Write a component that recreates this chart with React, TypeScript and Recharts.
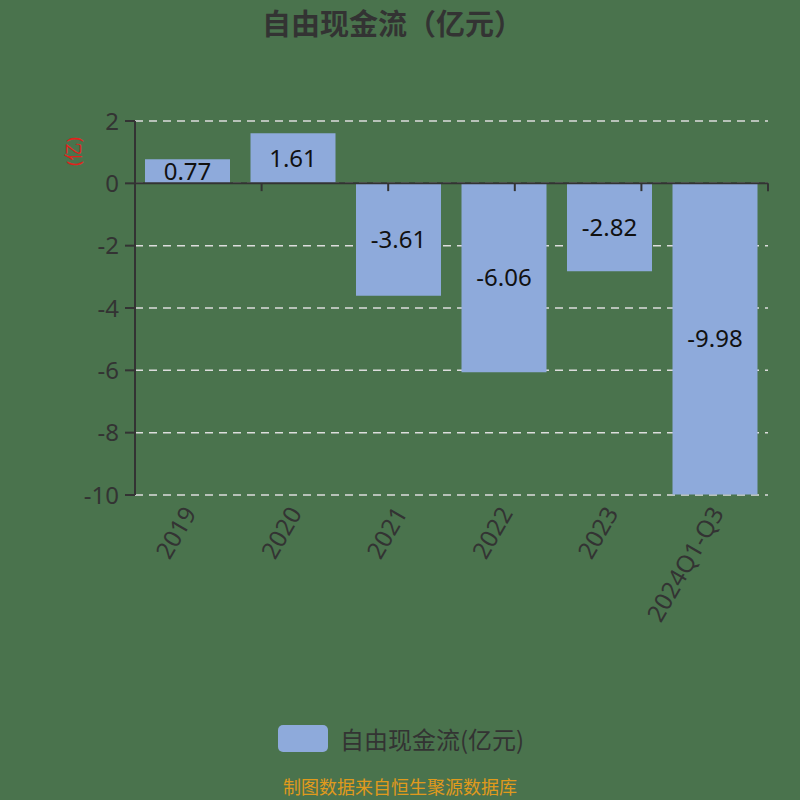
import { Bar, BarChart, CartesianGrid, LabelList, ReferenceLine, XAxis, YAxis } from "recharts"

const categories = ["2019", "2020", "2021", "2022", "2023", "2024Q1-Q3"]
const freeCashFlow = [0.77, 1.61, -3.61, -6.06, -2.82, -9.98]
const yTicks = [2, 0, -2, -4, -6, -8, -10]
const boundaries = [1, 2, 3, 4, 5, 6]

const data = categories.map((name, i) => ({ name, value: freeCashFlow[i] }))

const BG = "#4a734d"
const BAR = "#8eaadb"
const AXIS = "#333333"

function XTick({ x, y, payload }: any) {
  return (
    <g transform={`translate(${x + 2},${y + 6})`}>
      <text transform="rotate(-60)" textAnchor="end" dy="0.35em" fill={AXIS} fontSize={24}>
        {payload.value}
      </text>
    </g>
  )
}

export default function App() {
  return (
    <div
      style={{
        position: "absolute",
        left: 0,
        top: 0,
        width: 800,
        height: 800,
        overflow: "hidden",
        background: BG,
        fontFamily: "'Noto Sans', 'Noto Sans CJK SC', sans-serif",
      }}
    >
      <div
        style={{
          position: "absolute",
          top: 0,
          left: 0,
          width: 785,
          textAlign: "center",
          fontSize: 29,
          lineHeight: "44px",
          fontWeight: "bold",
          color: AXIS,
          fontFamily: "'Noto Sans CJK SC', sans-serif",
        }}
      >
        自由现金流（亿元）
      </div>
      <BarChart
        width={800}
        height={800}
        data={data}
        margin={{ top: 121, right: 32, bottom: 100, left: 0 }}
        barSize={85}
      >
        <CartesianGrid vertical={false} stroke="#dddddd" strokeDasharray="8 6" strokeWidth={1.5} />
        <XAxis
          dataKey="name"
          height={205}
          axisLine={false}
          tickLine={false}
          tick={<XTick />}
          interval={0}
        />
        <XAxis xAxisId="num" type="number" domain={[0, 6]} hide />
        <YAxis
          width={135}
          domain={[-10, 2]}
          ticks={yTicks}
          interval={0}
          axisLine={{ stroke: AXIS, strokeWidth: 2 }}
          tickLine={{ stroke: AXIS, strokeWidth: 2 }}
          tickSize={10}
          tickMargin={6}
          tick={{ fill: AXIS, fontSize: 24 }}
          label={{
            value: "(亿)",
            angle: -90,
            position: "insideTopLeft",
            dx: 62,
            dy: 40,
            fill: "#e0221c",
            fontSize: 18,
          }}
        />
        <Bar dataKey="value" fill={BAR} isAnimationActive={false}>
          <LabelList dataKey="value" position="center" fill="#111111" fontSize={24} />
        </Bar>
        <ReferenceLine y={0} stroke={AXIS} strokeWidth={2} />
        {boundaries.map((b) => (
          <ReferenceLine
            key={b}
            xAxisId="num"
            segment={[
              { x: b, y: 0 },
              { x: b, y: -0.25 },
            ]}
            stroke={AXIS}
            strokeWidth={2}
          />
        ))}
      </BarChart>
      <div
        style={{
          position: "absolute",
          top: 721,
          left: 278,
          display: "flex",
          alignItems: "center",
        }}
      >
        <div style={{ width: 50, height: 27, borderRadius: 5, background: BAR, marginRight: 12 }} />
        <span style={{ fontSize: 24, color: AXIS, fontFamily: "'Noto Sans CJK SC', sans-serif" }}>
          自由现金流(亿元)
        </span>
      </div>
      <div
        style={{
          position: "absolute",
          top: 776,
          left: 0,
          width: 800,
          textAlign: "center",
          fontSize: 18,
          lineHeight: "20px",
          color: "#e09a1c",
          fontFamily: "'Noto Sans CJK SC', sans-serif",
        }}
      >
        制图数据来自恒生聚源数据库
      </div>
    </div>
  )
}
